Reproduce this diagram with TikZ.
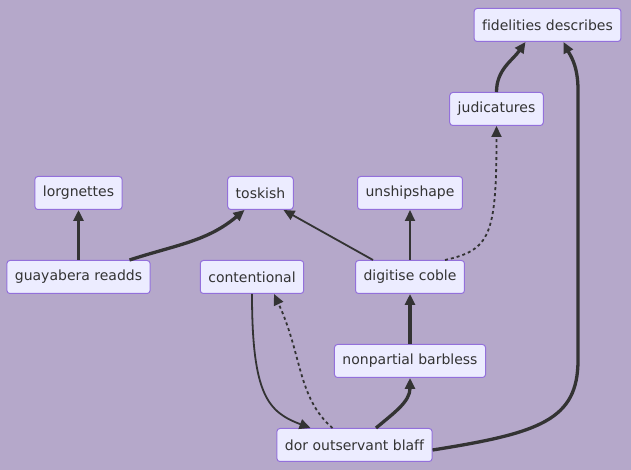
\documentclass[tikz,border=0pt]{standalone}
\usepackage{fontspec}
\setmainfont[Ligatures=NoCommon]{DejaVu Sans}
\usepackage{tikz}
\usetikzlibrary{positioning,arrows.meta}

\definecolor{bgpurple}{RGB}{181,168,202}
\definecolor{boxfill}{HTML}{ECECFF}
\definecolor{boxline}{HTML}{9370DB}
\definecolor{linkgray}{HTML}{333333}

\begin{document}
\begin{tikzpicture}[x=1pt, y=1pt, node distance = 84pt and 84pt, on grid,
                    box/.style   = {rectangle,
                                    rounded corners = 3pt,
                                    fill = boxfill,
                                    draw = boxline,
                                    line width = 1pt,
                                    text = linkgray,
                                    font = \fontsize{14}{16}\selectfont,
                                    inner xsep = 8pt,
                                    minimum height = 33pt},
                    link/.style  = {draw = linkgray,
                                    line width = 1.8pt,
                                    -{Triangle[length=11pt,width=10pt]}},
                    heavy/.style = {link, line width = 3.3pt},
                    dots/.style  = {link, dash pattern = on 3pt off 3pt}]

\fill[bgpurple] (0,0) rectangle (631,470);

\node[box] (dor)   at (354.5,25) {dor outservant blaff};
\node[box] (nonpartial) at (410,109) {nonpartial barbless};
\node[box] (digitise) [above = of nonpartial] {digitise coble};
\node[box] (unship) [above = of digitise] {unshipshape};
\node[box] (toskish) [left = 149.5pt of unship] {toskish};
\node[box] (content) [below = of toskish, xshift = -8.5pt] {contentional};

\node[box] (lorg)  at (78.5,277) {lorgnettes};
\node[box] (guay)  [below = of lorg] {guayabera readds};

\node[box] (judic) at (496.5,361) {judicatures};
\node[box] (fidel) at (547.5,445) {fidelities describes};

\draw[heavy] (guay) -- (lorg);
\draw[heavy] ([xshift=51pt]guay.north) to[out=18, in=-140] ([xshift=-16pt]toskish.south);

\draw[link] ([xshift=-37pt]digitise.north) -- ([xshift=23pt]toskish.south);
\draw[link] (digitise) -- (unship);
\draw[dots] ([xshift=35pt]digitise.north) .. controls +(45,10) and +(0,-110) .. (judic.south);
\draw[heavy] (judic.north) to[out=90, in=-125] ([xshift=-22pt]fidel.south);

\draw[heavy] (nonpartial) -- (digitise);
\draw[heavy] ([xshift=21.5pt]dor.north) to[out=40, in=-90] (nonpartial.south);
\draw[dots] ([xshift=-22pt]dor.north) .. controls +(-35,30) and +(28,-60) .. ([xshift=22pt]content.south);
\draw[link] (content.south) .. controls (252,75) and (268,58) .. ([xshift=-44pt]dor.north);

\draw[heavy] ([yshift=-5pt]dor.east) .. controls (540,37) and (578,50) .. (578,110)
             -- (578,380) .. controls (578,405) and (570,415) .. ([xshift=16pt]fidel.south);

\end{tikzpicture}
\end{document}
